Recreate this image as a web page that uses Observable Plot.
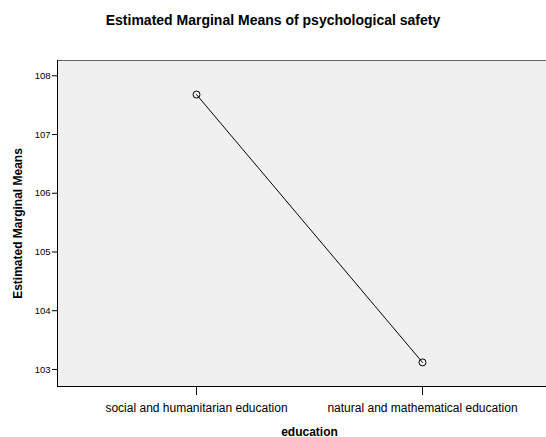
<!DOCTYPE html>
<html>
<head>
<meta charset="utf-8">
<script src="https://cdn.jsdelivr.net/npm/d3@7"></script>
<script src="https://cdn.jsdelivr.net/npm/@observablehq/plot@0.6"></script>
<style>
  body { margin: 0; background: white; }
  #title { width: 546px; height: 40px; text-align: center; font: bold 14px Arial, "Liberation Sans", sans-serif; line-height: 40px; color: #000; }
  g[aria-label="y-axis label"] text, g[aria-label="x-axis label"] text { font-weight: bold; font-size: 12px; }
</style>
</head>
<body>
<div id="title">Estimated Marginal Means of psychological safety</div>
<div id="chart"></div>
<script>
const categories = ["social and humanitarian education", "natural and mathematical education"];
const means = [107.68, 103.12];
const yTicks = [103, 104, 105, 106, 107, 108];

const data = categories.map((c, i) => ({education: c, mean: means[i]}));

const chart = Plot.plot({
  width: 546,
  height: 397,
  marginLeft: 57,
  marginRight: -15,
  marginTop: 20,
  marginBottom: 51,
  style: {fontFamily: "Arial, 'Liberation Sans', sans-serif", background: "white", color: "black"},
  x: {type: "point", domain: categories, padding: 0.615},
  y: {domain: [102.71, 108.26]},
  marks: [
    Plot.frame({fill: "#f0f0f0", stroke: null}),
    Plot.frame({anchor: "top", stroke: "#666"}),
    Plot.frame({anchor: "left", stroke: "black"}),
    Plot.frame({anchor: "bottom", stroke: "black"}),
    Plot.axisY({ticks: yTicks, tickSize: 5, tickPadding: 2, fontSize: 9.5, tickFormat: d => String(d),
      label: "Estimated Marginal Means", labelAnchor: "center", labelArrow: "none", labelOffset: 44}),
    Plot.axisX({tickSize: 9, tickPadding: 8, fontSize: 12,
      label: "education", labelAnchor: "center", labelArrow: "none", labelOffset: 49}),
    Plot.line(data, {x: "education", y: "mean", stroke: "black", strokeWidth: 1}),
    Plot.dot(data, {x: "education", y: "mean", r: 3.5, stroke: "black", fill: "none", strokeWidth: 1})
  ]
});
document.getElementById("chart").appendChild(chart);
</script>
</body>
</html>
